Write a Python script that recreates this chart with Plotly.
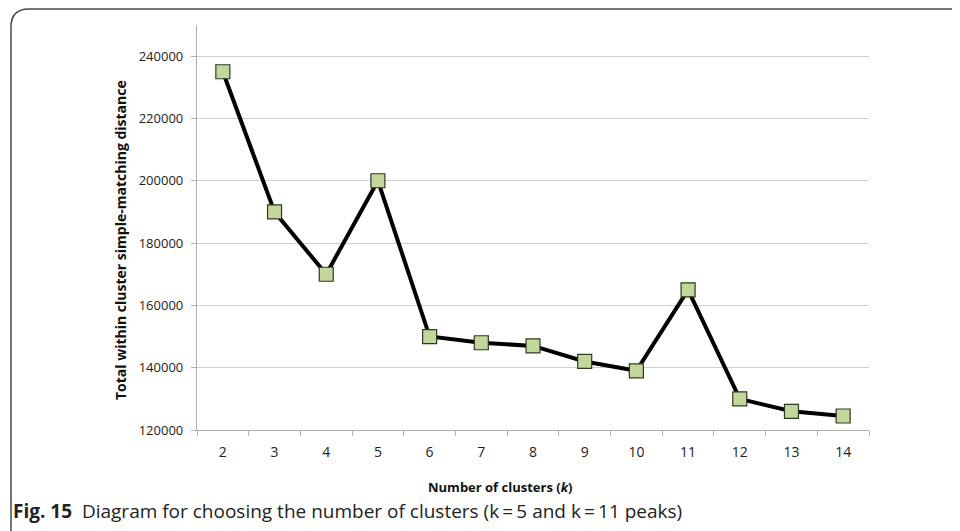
import plotly.graph_objects as go

clusters = ["2", "3", "4", "5", "6", "7", "8", "9", "10", "11", "12", "13", "14"]
distance = [235000, 190000, 170000, 200000, 150000, 148000, 147000, 142000,
            139000, 165000, 130000, 126000, 124500]
y_ticks = [120000, 140000, 160000, 180000, 200000, 220000, 240000]

# page has an 8px body margin; work in page pixels
OFF = 8
W, H = 960 - OFF, 531 - OFF
L, R, T, B = 197, 869, 25, 430  # plot area, page pixels


def px(x):
    return (x - L) / (R - L)


def py(y):
    return (B - y) / (B - T)


fig = go.Figure()
fig.add_trace(go.Scatter(
    x=clusters, y=distance, mode="lines+markers",
    line=dict(color="black", width=4),
    marker=dict(symbol="square", size=14, color="#c3d69b",
                line=dict(color="#2f3a22", width=1.2)),
    showlegend=False, cliponaxis=False,
))

fig.update_xaxes(
    type="category", range=[-0.5, 12.5], tickson="boundaries",
    ticks="outside", ticklen=5, tickcolor="#b0b0b0",
    showline=True, linecolor="#b0b0b0", linewidth=1.2,
    showgrid=False, ticklabelstandoff=9,
    tickfont=dict(family="Open Sans", size=14, color="#222"),
)
fig.update_yaxes(
    range=[120000, 250000], tickvals=y_ticks, ticktext=[str(v) for v in y_ticks],
    ticks="outside", ticklen=5, tickcolor="#b0b0b0",
    showline=True, linecolor="#b0b0b0", linewidth=1.2,
    showgrid=True, gridcolor="#cfcfcf", gridwidth=1, zeroline=False,
    ticklabelstandoff=5,
    tickfont=dict(family="Open Sans", size=13, color="#222"),
)

annotations = [
    dict(text="<b>Total within cluster simple-matching distance</b>",
         x=px(120), y=py(240), xref="paper", yref="paper", textangle=-90,
         showarrow=False, font=dict(family="Open Sans", size=14, color="#111"),
         xanchor="center", yanchor="middle"),
    dict(text="<b>Number of clusters (<i>k</i>)</b>",
         x=px(500), y=py(487), xref="paper", yref="paper",
         showarrow=False, font=dict(family="Open Sans", size=13, color="#111"),
         xanchor="center", yanchor="middle"),
    dict(text="<b>Fig. 15</b>  Diagram for choosing the number of clusters (k\u2009=\u20095 and k\u2009=\u200911 peaks)",
         x=px(11), y=py(511), xref="paper", yref="paper",
         showarrow=False, font=dict(family="Open Sans", size=19, color="#222"),
         xanchor="left", yanchor="middle"),
]

x0, ytop, r = px(11), py(9), 18
path = (f"M {x0},{py(545)} L {x0},{py(9 + r)} "
        f"Q {x0},{ytop} {px(11 + r)},{ytop} L {px(975)},{ytop}")

fig.update_layout(
    width=W, height=H,
    margin=dict(l=L - OFF, r=960 - R, t=T - OFF, b=531 - B),
    paper_bgcolor="white", plot_bgcolor="white",
    annotations=annotations,
    shapes=[dict(type="path", path=path, xref="paper", yref="paper",
                 line=dict(color="#4a4a4a", width=1.5))],
)

fig.write_html("out.html")
